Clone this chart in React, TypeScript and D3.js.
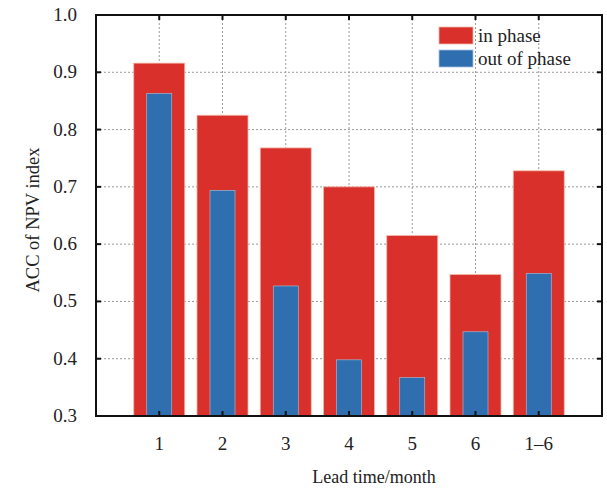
import React from "react";
import * as d3 from "d3";

const categories = ["1", "2", "3", "4", "5", "6", "1\u20136"];
const inPhase = [0.916, 0.825, 0.768, 0.7, 0.615, 0.547, 0.728];
const outOfPhase = [0.863, 0.694, 0.527, 0.398, 0.367, 0.447, 0.549];
const yTicks = [0.3, 0.4, 0.5, 0.6, 0.7, 0.8, 0.9, 1.0];

const layout = { width: 607, height: 489, left: 96, right: 602, top: 15, bottom: 416 };
const font = "'Liberation Serif', 'Times New Roman', serif";
const red = "#d9302b";
const blue = "#2f6faf";

const App = () => {
    const xScale = d3.scaleLinear().domain([0, categories.length + 1]).range([layout.left, layout.right]);
    const yScale = d3.scaleLinear().domain([0.3, 1.0]).range([layout.bottom, layout.top]);

    const redW = 51;
    const blueW = 25;

    return (
        <svg width={layout.width} height={layout.height} style={{ position: "absolute", left: 0, top: 0 }}>
            <rect x={0} y={0} width={layout.width} height={layout.height} fill="#fff" />
            {/* grid */}
            {yTicks.slice(1, -1).map(v => (
                <line key={"gy" + v} x1={layout.left} x2={layout.right} y1={yScale(v)} y2={yScale(v)}
                    stroke="#9a9a9a" strokeWidth={1} strokeDasharray="2,2" />
            ))}
            {categories.map((c, i) => (
                <line key={"gx" + c} x1={xScale(i + 1)} x2={xScale(i + 1)} y1={layout.top} y2={layout.bottom}
                    stroke="#9a9a9a" strokeWidth={1} strokeDasharray="2,2" />
            ))}
            {/* bars */}
            {categories.map((c, i) => (
                <rect key={"r" + c} x={xScale(i + 1) - redW / 2} y={yScale(inPhase[i])} width={redW}
                    height={yScale(0.3) - yScale(inPhase[i])} fill={red} stroke="#f3b8a8" strokeWidth={0.8} />
            ))}
            {categories.map((c, i) => (
                <rect key={"b" + c} x={xScale(i + 1) - blueW / 2} y={yScale(outOfPhase[i])} width={blueW}
                    height={yScale(0.3) - yScale(outOfPhase[i])} fill={blue} stroke="#a9c4e0" strokeWidth={0.6} />
            ))}
            {/* ticks */}
            {yTicks.map(v => (
                <g key={"ty" + v}>
                    <line x1={layout.left} x2={layout.left + 5} y1={yScale(v)} y2={yScale(v)} stroke="#111" strokeWidth={2} />
                    <line x1={layout.right - 5} x2={layout.right} y1={yScale(v)} y2={yScale(v)} stroke="#111" strokeWidth={2} />
                    <text x={77} y={yScale(v) + 6} textAnchor="end" fontFamily={font} fontSize={19} fill="#222">
                        {v.toFixed(1)}
                    </text>
                </g>
            ))}
            {categories.map((c, i) => (
                <g key={"tx" + c}>
                    <line x1={xScale(i + 1)} x2={xScale(i + 1)} y1={layout.top} y2={layout.top + 5} stroke="#111" strokeWidth={2} />
                    <line x1={xScale(i + 1)} x2={xScale(i + 1)} y1={layout.bottom - 5} y2={layout.bottom} stroke="#111" strokeWidth={2} />
                    <text x={xScale(i + 1)} y={450} textAnchor="middle" fontFamily={font} fontSize={19} fill="#222">
                        {c}
                    </text>
                </g>
            ))}
            {/* frame */}
            <rect x={layout.left} y={layout.top} width={layout.right - layout.left} height={layout.bottom - layout.top}
                fill="none" stroke="#111" strokeWidth={2} />
            {/* axis labels */}
            <text x={374} y={483} textAnchor="middle" fontFamily={font} fontSize={18} fill="#222">Lead time/month</text>
            <text transform={`translate(39,220) rotate(-90)`} textAnchor="middle"
                fontFamily={font} fontSize={18.5} fill="#222">ACC of NPV index</text>
            {/* legend */}
            <rect x={439} y={27} width={34} height={17} fill={red} stroke="#f3b8a8" strokeWidth={0.8} />
            <rect x={439} y={50} width={34} height={17} fill={blue} stroke="#a9c4e0" strokeWidth={0.8} />
            <text x={478} y={42} fontFamily={font} fontSize={19} fill="#222">in phase</text>
            <text x={478} y={65} fontFamily={font} fontSize={19} fill="#222">out of phase</text>
        </svg>
    );
};

export default App;
